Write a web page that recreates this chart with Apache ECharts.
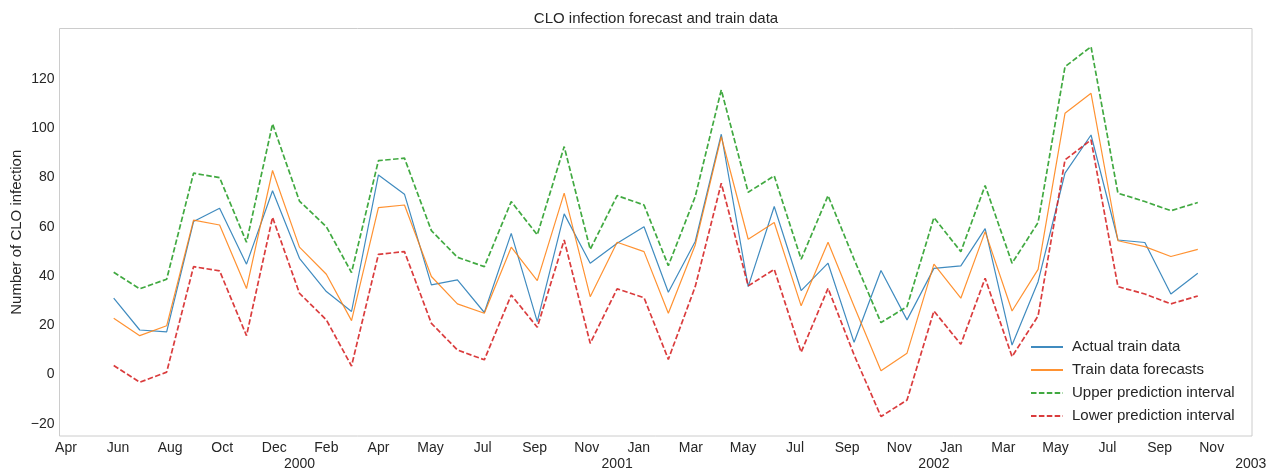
<!DOCTYPE html>
<html>
<head>
<meta charset="utf-8">
<script src="https://cdn.jsdelivr.net/npm/echarts@6/dist/echarts.min.js"></script>
<style>
html,body{margin:0;padding:0;background:#fff;}
#chart{width:1281px;height:474px;}
</style>
</head>
<body>
<div id="chart"></div>
<script>
// Monthly observation dates
var dates = ['1999-06-01','1999-07-01','1999-08-01','1999-09-01','1999-10-01','1999-11-01','1999-12-01',
  '2000-01-01','2000-02-01','2000-03-01','2000-04-01','2000-05-01','2000-06-01','2000-07-01','2000-08-01',
  '2000-09-01','2000-10-01','2000-11-01','2000-12-01','2001-01-01','2001-02-01','2001-03-01','2001-04-01',
  '2001-05-01','2001-06-01','2001-07-01','2001-08-01','2001-09-01','2001-10-01','2001-11-01','2001-12-01',
  '2002-01-01','2002-02-01','2002-03-01','2002-04-01','2002-05-01','2002-06-01','2002-07-01','2002-08-01',
  '2002-09-01','2002-10-01','2002-11-01'];
var actual = [31.0,18.1,17.3,62.1,67.5,44.8,74.6,47.2,33.7,25.6,81.0,73.2,36.4,38.4,25.2,57.3,21.5,65.2,45.2,53.3,60.0,
  33.4,54.0,97.5,35.7,68.2,34.1,45.2,13.1,42.2,22.2,43.1,44.1,59.2,12.0,37.7,81.7,97.2,54.6,53.6,32.7,41.1];
var forecast = [22.9,15.8,19.8,62.7,60.7,34.9,82.8,51.7,40.7,21.9,67.7,68.8,39.8,28.7,24.9,51.7,38.1,73.6,31.6,53.7,49.9,
  24.9,52.6,96.5,54.9,61.7,27.9,53.7,27.7,1.6,8.7,44.8,31.0,58.0,25.8,42.7,106.0,114.1,54.3,51.9,47.9,50.8];
var upper = [41.5,34.8,38.7,81.7,79.9,53.7,101.7,70.4,60.0,41.4,86.8,87.8,58.4,47.6,43.8,70.2,56.7,92.5,50.8,72.6,68.8,
  44.2,72.2,115.5,74.0,80.6,46.8,72.6,46.8,21.1,27.6,63.7,49.9,76.7,45.2,61.7,124.9,133.0,73.6,70.2,66.5,69.8];
var lower = [3.7,-3.1,1.0,43.8,42.1,15.8,63.8,33.0,22.2,3.5,48.8,49.9,20.8,10.0,6.0,32.3,19.2,54.6,12.7,34.8,31.2,
  6.2,35.7,77.6,36.0,42.7,9.1,35.0,8.0,-17.0,-10.3,25.8,12.3,39.1,7.3,23.8,87.1,95.2,35.7,32.7,28.7,31.9];

// Axis tick labels
var tickDates = ['1999-04-07','1999-06-06','1999-08-05','1999-10-04','1999-12-03','2000-02-01','2000-04-01',
  '2000-05-31','2000-07-30','2000-09-28','2000-11-27','2001-01-26','2001-03-27','2001-05-26','2001-07-25',
  '2001-09-23','2001-11-22','2002-01-21','2002-03-22','2002-05-21','2002-07-20','2002-09-18','2002-11-17'];
var tickLabels = ['Apr','Jun','Aug','Oct','Dec','Feb','Apr','May','Jul','Sep','Nov','Jan','Mar','May','Jul',
  'Sep','Nov','Jan','Mar','May','Jul','Sep','Nov'];
var yearDates = ['2000-01-01','2001-01-01','2002-01-01','2003-01-01'];
var yearLabels = ['2000','2001','2002','2003'];
var yTicks = [-20,0,20,40,60,80,100,120];

function ts(s){ return Date.parse(s + 'T00:00:00Z'); }
var t0 = ts(dates[0]), t1 = ts(dates[dates.length-1]);
var pad = (t1 - t0) * 0.05;
var xMin = t0 - pad, xMax = t1 + pad;
var tickTs = tickDates.map(ts);
var yearTs = yearDates.map(ts);

function pairs(arr){ return arr.map(function(v,i){ return [ts(dates[i]), v]; }); }

var font = 'Liberation Sans, Arial, sans-serif';
var txt = '#262626';

var chart = echarts.init(document.getElementById('chart'), null, {renderer:'canvas'});
var mkLine = function(name, data, color, dashed){
  return {
    name: name, type: 'line', data: pairs(data), xAxisIndex: 0,
    symbol: 'none', showSymbol: false, animation: false,
    lineStyle: dashed ? {color: color, width: 1.7, type: [5.5, 2.4], opacity: 0.9}
                      : {color: color, width: 1.2, opacity: 0.85},
    itemStyle: {color: color},
    emphasis: {disabled: true}
  };
};
chart.setOption({
  animation: false,
  backgroundColor: '#ffffff',
  title: {
    text: 'CLO infection forecast and train data',
    left: 651, top: 6, textAlign: 'center',
    textStyle: {fontFamily: font, fontSize: 15, fontWeight: 'normal', color: txt}
  },
  grid: {left: 59.5, top: 28.5, right: 29, bottom: 38, show: true, borderColor: '#cccccc', borderWidth: 1,
    containLabel: false, outerBoundsMode: 'none'},
  legend: {
    orient: 'vertical', left: 1025, top: 334.5,
    itemWidth: 32, itemHeight: 14, itemGap: 8,
    itemStyle: {opacity: 0},
    textStyle: {fontFamily: font, fontSize: 15, color: txt, lineHeight: 15, padding: [0,0,0,4]},
    data: ['Actual train data','Train data forecasts','Upper prediction interval','Lower prediction interval']
  },
  xAxis: [{
    type: 'value', min: xMin, max: xMax,
    axisLine: {show: false}, axisTick: {show: false}, splitLine: {show: false},
    axisLabel: {
      customValues: tickTs, margin: 5,
      fontFamily: font, fontSize: 14, color: txt,
      formatter: function(v){ var i = tickTs.indexOf(v); return i >= 0 ? tickLabels[i] : ''; }
    }
  },{
    type: 'value', min: xMin, max: xMax, position: 'bottom',
    axisLine: {show: false}, axisTick: {show: false}, splitLine: {show: false},
    axisLabel: {
      customValues: yearTs, margin: 21,
      fontFamily: font, fontSize: 14, color: txt,
      formatter: function(v){ var i = yearTs.indexOf(v); return i >= 0 ? yearLabels[i] : ''; }
    }
  }],
  yAxis: {
    type: 'value', min: -24.9, max: 140.4,
    name: 'Number of CLO infection', nameLocation: 'middle', nameGap: 35, nameMoveOverlap: false,
    nameTextStyle: {fontFamily: font, fontSize: 15, color: txt},
    axisLine: {show: false}, axisTick: {show: false}, splitLine: {show: false},
    axisLabel: {
      customValues: yTicks, margin: 5,
      fontFamily: font, fontSize: 14, color: txt,
      formatter: function(v){ return v < 0 ? '\u2212' + Math.abs(v) : String(v); }
    }
  },
  series: [
    mkLine('Actual train data', actual, '#1f77b4', false),
    mkLine('Train data forecasts', forecast, '#ff7f0e', false),
    mkLine('Upper prediction interval', upper, '#2ca02c', true),
    mkLine('Lower prediction interval', lower, '#d62728', true)
  ]
});
</script>
</body>
</html>
